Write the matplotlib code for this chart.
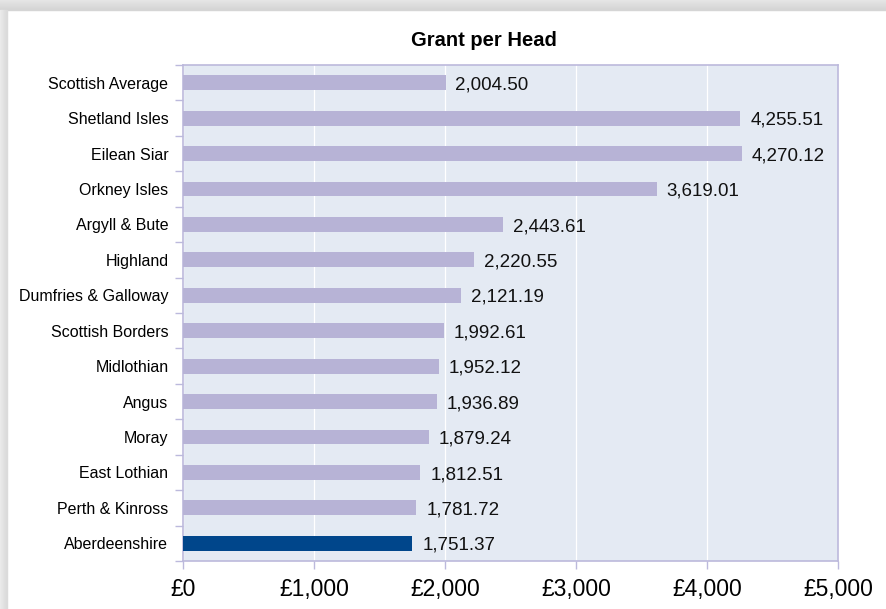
import matplotlib
matplotlib.use("Agg")
import matplotlib.pyplot as plt
from matplotlib.patches import Rectangle
from matplotlib.ticker import FuncFormatter, FixedLocator
import numpy as np

plt.rcParams['font.family'] = ['Liberation Sans', 'DejaVu Sans']

# Data (top to bottom as shown)
councils = ["Scottish Average", "Shetland Isles", "Eilean Siar", "Orkney Isles",
            "Argyll & Bute", "Highland", "Dumfries & Galloway", "Scottish Borders",
            "Midlothian", "Angus", "Moray", "East Lothian", "Perth & Kinross",
            "Aberdeenshire"]
grant_per_head = [2004.50, 4255.51, 4270.12, 3619.01, 2443.61, 2220.55, 2121.19,
                  1992.61, 1952.12, 1936.89, 1879.24, 1812.51, 1781.72, 1751.37]
highlight = "Aberdeenshire"
x_ticks = [0, 1000, 2000, 3000, 4000, 5000]

bar_color = "#b7b3d6"
hi_color = "#00468b"
spine_color = "#bcb9dc"
panel_color = "#e4eaf3"

fig = plt.figure(figsize=(8.86, 6.09), dpi=100)
fig.patch.set_facecolor("white")

# soft card shadow along the top and left edges
W, H = 886, 609
for i in range(10):
    g = (0.90 - 0.007 * i, ) * 3
    fig.patches.append(Rectangle((0, 1 - (i + 1) / H), 1, 1 / H,
                                 transform=fig.transFigure, color=g, zorder=-5))
for i in range(7):
    g = (0.92 - 0.01 * i, ) * 3
    fig.patches.append(Rectangle((i / W, 0), 1 / W, 1 - 10 / H,
                                 transform=fig.transFigure, color=g, zorder=-5))

ax = fig.add_axes([183 / W, 1 - 561 / H, (838 - 183) / W, (561 - 65) / H])
ax.set_facecolor(panel_color)

y = np.arange(len(councils))[::-1]
colors = [hi_color if c == highlight else bar_color for c in councils]
ax.barh(y, grant_per_head, height=0.42, color=colors, zorder=3)

for yi, v in zip(y, grant_per_head):
    ax.annotate(f"{v:,.2f}", xy=(v, yi), xytext=(7, -1.5), textcoords="offset points",
                ha="left", va="center", fontsize=13.5, color="#111111", zorder=4)

ax.set_xlim(0, 5000)
ax.set_ylim(-0.5, len(councils) - 0.5)

ax.set_xticks(x_ticks)
ax.xaxis.set_major_formatter(FuncFormatter(lambda v, p: f"£{v:,.0f}"))
ax.tick_params(axis="x", length=6, width=1, color=spine_color, labelsize=16.5, pad=6)
ax.grid(axis="x", color="white", linewidth=0.9, zorder=1)

ax.set_yticks(y)
ax.set_yticklabels(councils)
ax.tick_params(axis="y", which="major", length=0, labelsize=11.5, pad=10.5)
ax.yaxis.set_minor_locator(FixedLocator(np.arange(-0.5, len(councils), 1.0)))
ax.tick_params(axis="y", which="minor", length=6, width=1, color=spine_color)

for s in ax.spines.values():
    s.set_color(spine_color)
    s.set_linewidth(1.2)

fig.text(484 / W, 1 - 41 / H, "Grant per Head", ha="center", va="center",
         fontsize=14.5, fontweight="bold")

fig.savefig("out.png", dpi=100)
